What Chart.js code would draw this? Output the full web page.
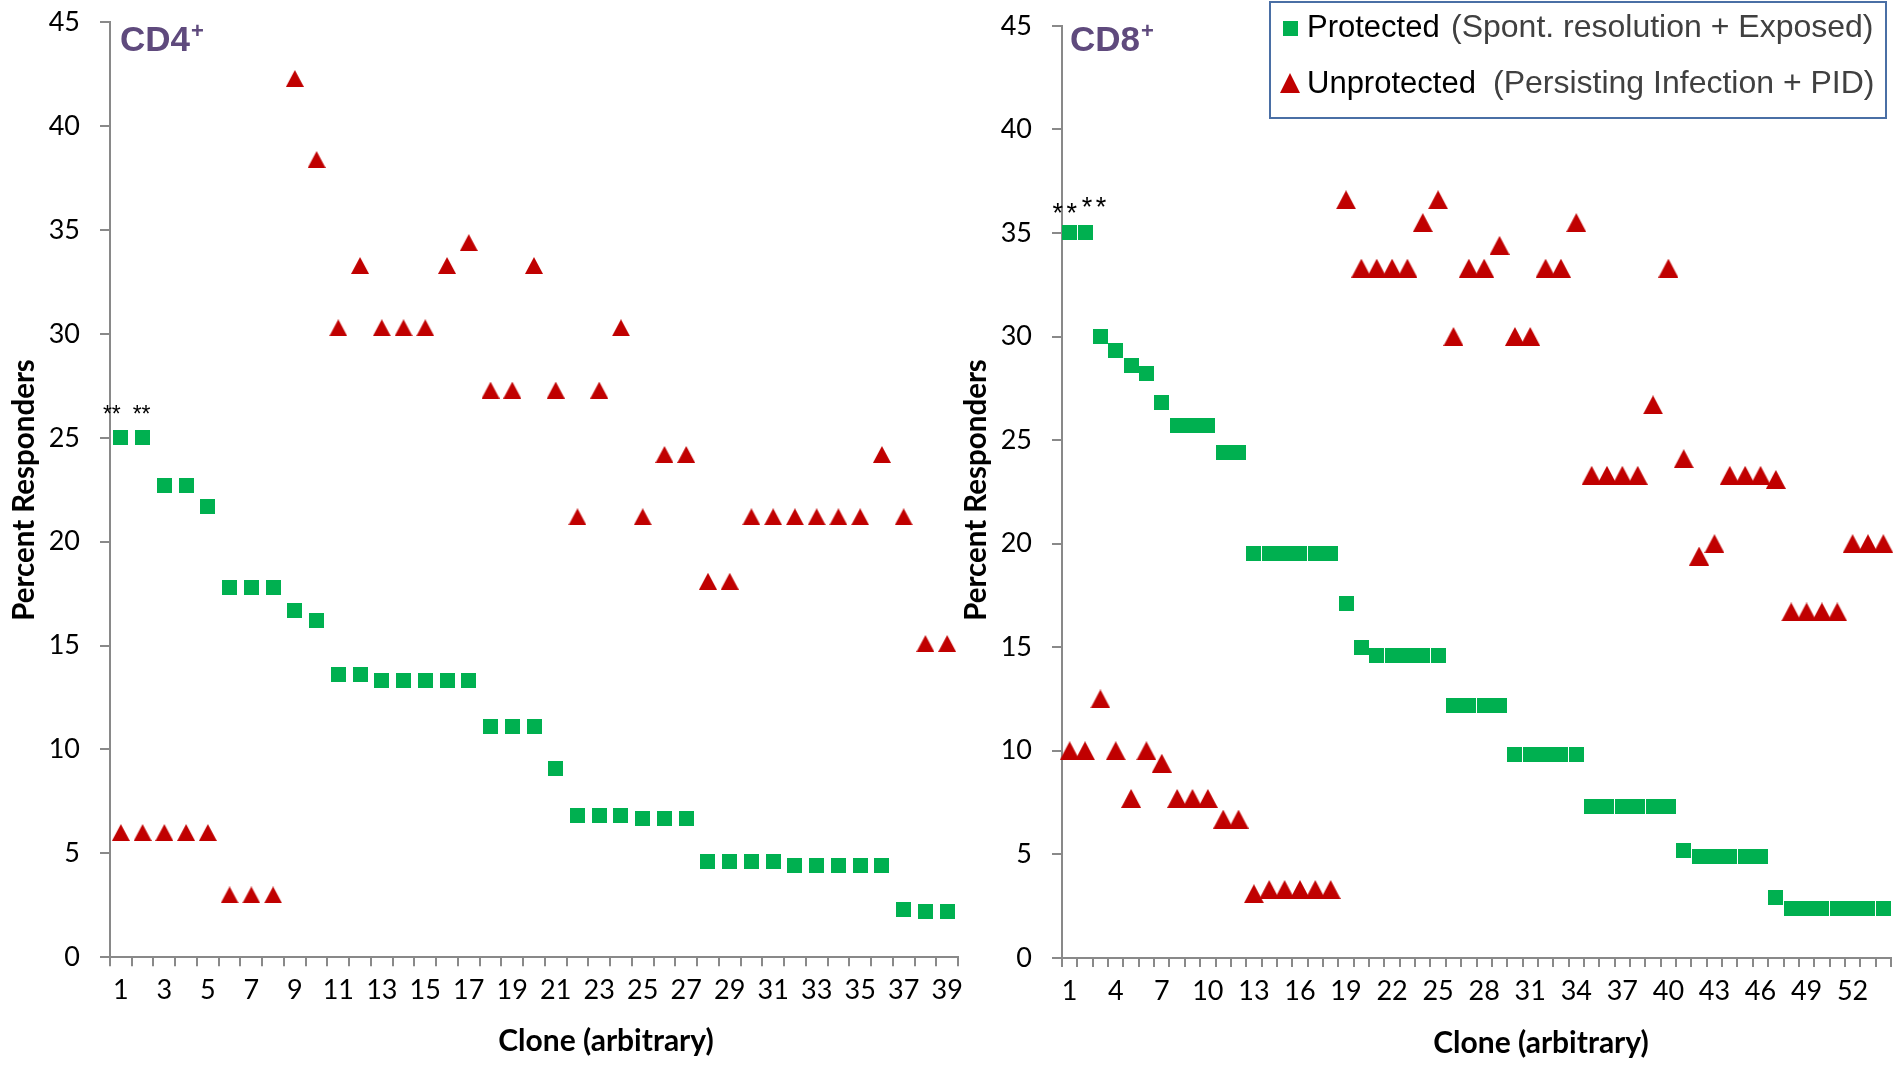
<!DOCTYPE html>
<html>
<head>
<meta charset="utf-8">
<script src="https://cdn.jsdelivr.net/npm/chart.js@4.4.0/dist/chart.umd.min.js"></script>
<style>
  html, body { margin: 0; padding: 0; background: #fff; }
  body { width: 1901px; height: 1067px; position: relative; overflow: hidden; }
  #cd4 { position: absolute; left: 0; top: 0; }
  #cd8 { position: absolute; left: 950px; top: 0; }
</style>
</head>
<body>
<canvas id="cd4" width="970" height="1067"></canvas>
<canvas id="cd8" width="951" height="1067"></canvas>
<script>
// CD4+ panel
const cd4Clones = ['1','2','3','4','5','6','7','8','9','10','11','12','13','14','15','16','17','18','19','20',
  '21','22','23','24','25','26','27','28','29','30','31','32','33','34','35','36','37','38','39'];
const cd4TickLabels = ['1','3','5','7','9','11','13','15','17','19','21','23','25','27','29','31','33','35','37','39'];
const cd4Protected = [25.0, 25.0, 22.7, 22.7, 21.7, 17.8, 17.8, 17.8, 16.7, 16.2, 13.6, 13.6, 13.3, 13.3, 13.3, 13.3, 13.3,
  11.1, 11.1, 11.1, 9.1, 6.8, 6.8, 6.8, 6.7, 6.7, 6.7, 4.6, 4.6, 4.6, 4.6, 4.4, 4.4, 4.4, 4.4, 4.4, 2.3, 2.2, 2.2];
const cd4Unprotected = [6.0, 6.0, 6.0, 6.0, 6.0, 3.0, 3.0, 3.0, 42.3, 38.4, 30.3, 33.3, 30.3, 30.3, 30.3, 33.3, 34.4,
  27.3, 27.3, 33.3, 27.3, 21.2, 27.3, 30.3, 21.2, 24.2, 24.2, 18.1, 18.1, 21.2, 21.2, 21.2, 21.2, 21.2, 21.2, 24.2, 21.2, 15.1, 15.1];

// CD8+ panel
const cd8Clones = ['1','2','3','4','5','6','7','8','9','10','11','12','13','14','15','16','17','18','19','20',
  '21','22','23','24','25','26','27','28','29','30','31','32','33','34','35','36','37','38','39','40',
  '41','42','43','44','45','46','47','48','49','50','51','52','53','54'];
const cd8TickLabels = ['1','4','7','10','13','16','19','22','25','28','31','34','37','40','43','46','49','52'];
const cd8Protected = [35.0, 35.0, 30.0, 29.3, 28.6, 28.2, 26.8, 25.7, 25.7, 25.7, 24.4, 24.4, 19.5, 19.5, 19.5, 19.5, 19.5, 19.5,
  17.1, 15.0, 14.6, 14.6, 14.6, 14.6, 14.6, 12.2, 12.2, 12.2, 12.2, 9.8, 9.8, 9.8, 9.8, 9.8, 7.3, 7.3, 7.3, 7.3, 7.3, 7.3,
  5.2, 4.9, 4.9, 4.9, 4.9, 4.9, 2.9, 2.4, 2.4, 2.4, 2.4, 2.4, 2.4, 2.4];
const cd8Unprotected = [10.0, 10.0, 12.5, 10.0, 7.7, 10.0, 9.4, 7.7, 7.7, 7.7, 6.7, 6.7, 3.1, 3.3, 3.3, 3.3, 3.3, 3.3,
  36.6, 33.3, 33.3, 33.3, 33.3, 35.5, 36.6, 30.0, 33.3, 33.3, 34.4, 30.0, 30.0, 33.3, 33.3, 35.5, 23.3, 23.3, 23.3, 23.3,
  26.7, 33.3, 24.1, 19.4, 20.0, 23.3, 23.3, 23.3, 23.1, 16.7, 16.7, 16.7, 16.7, 20.0, 20.0, 20.0];

const GREEN = '#00B050';
const RED = '#C00000';
const AXIS = '#898989';

Chart.defaults.font.family = 'Lato';

function squareMarker(size, color) {
  const c = document.createElement('canvas');
  c.width = size; c.height = size;
  const g = c.getContext('2d');
  g.fillStyle = color;
  g.fillRect(0, 0, size, size);
  return c;
}

function triangleMarker(w, h, color) {
  const c = document.createElement('canvas');
  c.width = w; c.height = h;
  const g = c.getContext('2d');
  g.fillStyle = color;
  g.beginPath();
  g.moveTo(w / 2, 0);
  g.lineTo(w, h);
  g.lineTo(0, h);
  g.closePath();
  g.fill();
  return c;
}

// text that sits on top of each panel: panel name, asterisks, axis titles
function panelText(opt) {
  return {
    id: 'panelText',
    afterDraw(chart) {
      const ctx = chart.ctx;
      const xs = chart.scales.x, ys = chart.scales.y;
      ctx.save();
      ctx.fillStyle = '#5F4A7D';
      ctx.textAlign = 'left';
      ctx.textBaseline = 'alphabetic';
      ctx.font = 'bold 35px "Liberation Sans"';
      ctx.fillText(opt.name, opt.nameX, 51);
      const w = ctx.measureText(opt.name).width;
      ctx.font = 'bold 22px "Liberation Sans"';
      ctx.fillText('+', opt.nameX + w + 1, 38);

      ctx.fillStyle = '#000';
      ctx.textAlign = 'center';
      ctx.textBaseline = 'middle';
      ctx.font = opt.starFont;
      opt.stars.forEach(s => {
        ctx.fillText(s.text, xs.getPixelForValue(s.idx) + s.dx, ys.getPixelForValue(s.val) + s.dy);
      });

      ctx.font = 'bold 30px Lato';
      ctx.fillText('Clone (arbitrary)', opt.xTitleX, opt.xTitleY);
      ctx.font = 'bold 29.5px Lato';
      ctx.translate(opt.yTitleX, 490);
      ctx.rotate(-Math.PI / 2);
      ctx.fillText('Percent Responders', 0, 0);
      ctx.restore();
    }
  };
}

const legendBox = {
  id: 'legendBox',
  afterDraw(chart) {
    const ctx = chart.ctx;
    ctx.save();
    ctx.strokeStyle = '#4A6FA5';
    ctx.lineWidth = 2;
    ctx.strokeRect(320, 2, 616, 116);
    ctx.drawImage(squareMarker(15, GREEN), 333, 21);
    ctx.drawImage(triangleMarker(20, 20, RED), 330, 73);
    ctx.textBaseline = 'alphabetic';
    ctx.font = '31px "Liberation Sans"';
    ctx.fillStyle = '#000';
    ctx.fillText('Protected', 357, 37);
    ctx.fillText('Unprotected', 357, 93);
    ctx.fillStyle = '#404040';
    ctx.font = '32px "Liberation Sans"';
    ctx.fillText('(Spont. resolution + Exposed)', 501, 37);
    ctx.fillText('(Persisting Infection + PID)', 543, 93);
    ctx.restore();
  }
};

function makeChart(id, clones, shownLabels, prot, unprot, tri, area, text, extra) {
  const canvas = document.getElementById(id);
  return new Chart(canvas, {
    type: 'line',
    data: {
      labels: clones,
      datasets: [
        { label: 'Protected', data: prot, showLine: false, pointStyle: squareMarker(15, GREEN), pointRadius: 8 },
        { label: 'Unprotected', data: unprot, showLine: false, pointStyle: triangleMarker(tri[0], tri[1], RED), pointRadius: 9 }
      ]
    },
    options: {
      responsive: false,
      animation: false,
      layout: { padding: { left: 0, right: area.right, top: area.top, bottom: 0 } },
      plugins: { legend: { display: false }, tooltip: { enabled: false } },
      scales: {
        x: {
          type: 'category',
          offset: true,
          grid: { offset: true, drawOnChartArea: false, tickLength: 9, color: AXIS, lineWidth: 2 },
          border: { color: AXIS, width: 2 },
          ticks: {
            autoSkip: false, maxRotation: 0, padding: 8, color: '#000', font: { size: 27 },
            callback: function (v) {
              const l = this.getLabelForValue(v);
              return shownLabels.includes(l) ? l : '';
            }
          },
          afterFit: s => { s.height = area.xHeight; s.paddingLeft = 0; s.paddingRight = 0; }
        },
        y: {
          min: 0, max: 45,
          grid: { drawOnChartArea: false, tickLength: 10, color: AXIS, lineWidth: 2 },
          border: { color: AXIS, width: 2 },
          ticks: { stepSize: 5, padding: 20, color: '#000', font: { size: 27 } },
          afterFit: s => { s.width = area.yWidth; s.paddingTop = 0; s.paddingBottom = 0; }
        }
      }
    },
    plugins: [panelText(text)].concat(extra)
  });
}

makeChart('cd4', cd4Clones, cd4TickLabels, cd4Protected, cd4Unprotected, [18, 17],
  { right: 12, top: 22.4, xHeight: 1067 - 957.2, yWidth: 110 },
  {
    name: 'CD4', nameX: 120, xTitleX: 606, xTitleY: 1041, yTitleX: 24,
    starFont: '23px "Liberation Sans"',
    stars: [ { text: '**', idx: 0, val: 25, dx: -9, dy: -22 }, { text: '**', idx: 1, val: 25, dx: -1, dy: -22 } ]
  }, []);

makeChart('cd8', cd8Clones, cd8TickLabels, cd8Protected, cd8Unprotected, [20, 19],
  { right: 5, top: 25.8, xHeight: 1067 - 957.9, yWidth: 112 },
  {
    name: 'CD8', nameX: 120, xTitleX: 591, xTitleY: 1043, yTitleX: 26,
    starFont: '27px "Liberation Sans"',
    stars: [
      { text: '*', idx: 0, val: 35, dx: -12, dy: -18 }, { text: '*', idx: 0, val: 35, dx: 2, dy: -18 },
      { text: '*', idx: 1, val: 35, dx: 2, dy: -24 }, { text: '*', idx: 1, val: 35, dx: 16, dy: -24 }
    ]
  }, [legendBox]);
</script>
</body>
</html>
